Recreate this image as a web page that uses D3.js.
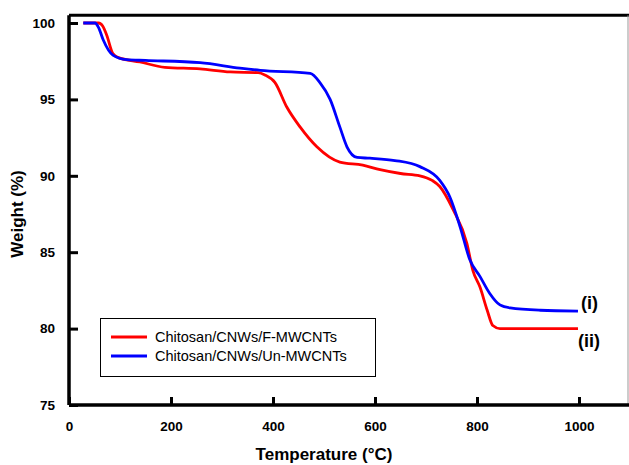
<!DOCTYPE html>
<html><head><meta charset="utf-8">
<script src="https://cdn.jsdelivr.net/npm/d3@7"></script>
<style>body{margin:0;background:#fff}svg{display:block}</style>
</head><body>
<svg id="c" width="629" height="465"></svg>
<script>
// Chitosan/CNWs/F-MWCNTs (red, ii)
const redT = [28,58,66,74,86,96,139,188,257,316,371,384,404,427,453,486,531,576,610,650,688,712,727,753,780,792,806,820,831,845,900,998];
const redW = [100,100,99.8,99.2,98.0,97.75,97.45,97.1,97.0,96.8,96.75,96.6,96.1,94.5,93.2,91.9,90.9,90.7,90.4,90.15,90.0,89.7,89.3,87.8,85.6,83.8,82.7,81.2,80.2,80.0,80.0,80.0];
// Chitosan/CNWs/Un-MWCNTs (blue, i)
const blueT = [28,51,58,67,86,113,150,257,335,375,473,492,512,531,545,565,590,639,688,727,747,767,786,806,825,845,865,924,998];
const blueW = [100,100,99.7,98.9,97.9,97.6,97.55,97.4,97.05,96.9,96.7,96.1,95.0,93.2,91.9,91.2,91.15,91.0,90.6,89.7,88.6,86.65,84.5,83.4,82.3,81.55,81.35,81.2,81.15];
const xTicks = [0,200,400,600,800,1000];
const yTicks = [75,80,85,90,95,100];
const seriesNames = ["Chitosan/CNWs/F-MWCNTs","Chitosan/CNWs/Un-MWCNTs"];
const seriesColors = ["#ff0000","#0000ff"];
const endLabels = ["(ii)","(i)"];

const svg = d3.select("#c");
const x = d3.scaleLinear().domain([0,1100]).range([69,630]);
const y = d3.scaleLinear().domain([75,100]).range([405,23]);
const yTop = y(100.5);

const line = d3.line().x(d=>x(d[0])).y(d=>y(d[1])).curve(d3.curveMonotoneX);
const red = redT.map((t,i)=>[t,redW[i]]);
const blue = blueT.map((t,i)=>[t,blueW[i]]);

// frame
svg.append("line").attr("x1",x(0)).attr("x2",629).attr("y1",yTop).attr("y2",yTop).attr("stroke","#000").attr("stroke-width",3);
svg.append("line").attr("x1",628).attr("x2",628).attr("y1",yTop).attr("y2",y(75)).attr("stroke","#999").attr("stroke-width",1);

svg.append("path").datum(red).attr("d",line).attr("fill","none").attr("stroke",seriesColors[0]).attr("stroke-width",2.8);
svg.append("path").datum(blue).attr("d",line).attr("fill","none").attr("stroke",seriesColors[1]).attr("stroke-width",2.8);

// axes
const xAxis = svg.append("g").attr("transform",`translate(0,${y(75)})`)
  .call(d3.axisBottom(x).tickValues(xTicks).tickFormat(d3.format("d")).tickSize(-8).tickPadding(16));
const yAxis = svg.append("g").attr("transform",`translate(${x(0)},0)`)
  .call(d3.axisLeft(y).tickValues(yTicks).tickSize(-9).tickPadding(14));
[xAxis,yAxis].forEach(g=>{
  g.select(".domain").attr("stroke","#000").attr("stroke-width",3.5);
  g.selectAll(".tick line").attr("stroke","#000").attr("stroke-width",3);
  g.selectAll(".tick text").attr("fill","#000").attr("font-family","Liberation Sans, Arial, sans-serif").attr("font-weight","bold").attr("font-size",13.5);
});
xAxis.select(".domain").attr("d",`M${x(0)},0H629`);
yAxis.select(".domain").attr("d",`M0,${y(75)}V${yTop}`);

// titles
svg.append("text").attr("x",x(500)).attr("y",460).attr("text-anchor","middle")
  .attr("font-family","Liberation Sans, Arial, sans-serif").attr("font-weight","bold").attr("font-size",17).text("Temperature (°C)");
svg.append("text").attr("transform",`translate(23,${y(87.5)}) rotate(-90)`).attr("text-anchor","middle")
  .attr("font-family","Liberation Sans, Arial, sans-serif").attr("font-weight","bold").attr("font-size",17).text("Weight (%)");

// legend
svg.append("rect").attr("x",100.5).attr("y",318.5).attr("width",275).attr("height",58).attr("fill","#fff").attr("stroke","#000").attr("stroke-width",1);
seriesNames.forEach((n,i)=>{
  const yy = 337 + i*19;
  svg.append("line").attr("x1",111).attr("x2",147).attr("y1",yy).attr("y2",yy).attr("stroke",seriesColors[i]).attr("stroke-width",3);
  svg.append("text").attr("x",155).attr("y",yy+5).attr("font-family","Liberation Sans, Arial, sans-serif").attr("font-size",14.5).attr("fill","#000").text(n);
});

// end labels
svg.append("text").attr("x",578).attr("y",y(80)+18).attr("font-family","Liberation Sans, Arial, sans-serif").attr("font-weight","bold").attr("font-size",18).text(endLabels[0]);
svg.append("text").attr("x",581).attr("y",y(81.15)-2).attr("font-family","Liberation Sans, Arial, sans-serif").attr("font-weight","bold").attr("font-size",18).text(endLabels[1]);
</script>
</body></html>
